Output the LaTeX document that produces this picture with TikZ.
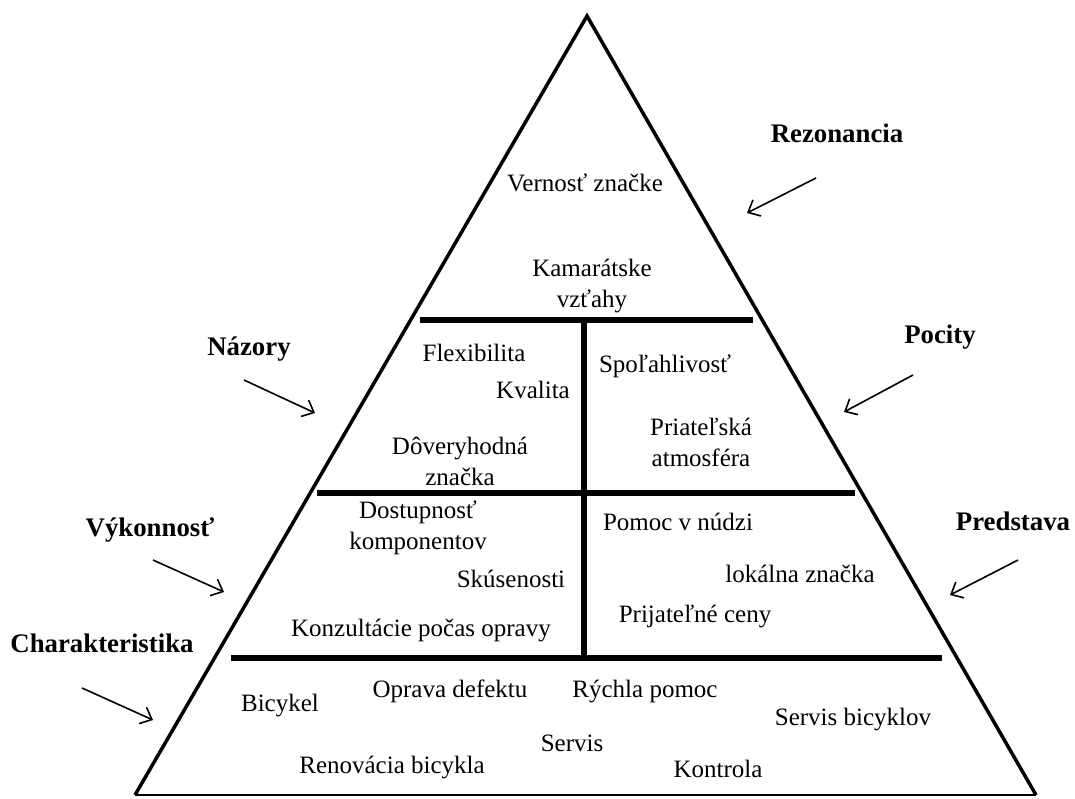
\documentclass[tikz,border=0pt]{standalone}
\usepackage{fontspec}
\setmainfont{Liberation Serif}
\usetikzlibrary{arrows.meta}
\begin{document}
\begin{tikzpicture}[x=1pt,y=-1pt,
  txt/.style={inner sep=0pt, font=\fontsize{25}{31}\selectfont, align=center},
  lbl/.style={inner sep=0pt, font=\fontsize{26.8}{31}\selectfont\bfseries},
  side/.style={line width=3.5pt, line join=miter, line cap=butt},
  base/.style={line width=2.5pt},
  bar/.style={line width=6pt},
  arr/.style={line width=1.6pt, -{Straight Barb[length=10pt,width=18pt,line width=1.6pt]}}]
\useasboundingbox (0,0) rectangle (1075,798);
% pyramid
\coordinate (apex) at (587,16);
\coordinate (bl) at (135,795);
\coordinate (br) at (1036,795);
\draw[side] (bl) -- (apex) -- (br);
\draw[base] (bl) -- (br);
% bars
\draw[bar] (420,319.5) -- (753,319.5);
\draw[bar] (317,492.5) -- (855,492.5);
\draw[bar] (231,657.5) -- (942,657.5);
\draw[bar] (583.5,317) -- (583.5,660);
% top level
\node[txt] (t1) at (585,183) {Vernosť značke};
\node[txt] (t2) at (592,286) {Kamarátske\\vzťahy};
% second level
\node[txt] (n1) at (474,353) {Flexibilita};
\node[txt] (n2) at (533,390) {Kvalita};
\node[txt] (n3) at (460,461) {Dôveryhodná\\značka};
\node[txt] (p1) at (665,366) {Spoľahlivosť};
\node[txt] (p2) at (701,442) {Priateľská\\atmosféra};
% third level
\node[txt] (v1) at (418,528) {Dostupnosť\\komponentov};
\node[txt] (v2) at (511,579) {Skúsenosti};
\node[txt] (v3) at (421,630) {Konzultácie počas opravy};
\node[txt] (r1) at (678,522) {Pomoc v núdzi};
\node[txt] (r2) at (800,574) {lokálna značka};
\node[txt] (r3) at (695,616) {Prijateľné ceny};
% bottom level
\node[txt] (b1) at (280,706) {Bicykel};
\node[txt] (b2) at (450,691) {Oprava defektu};
\node[txt] (b3) at (645,691) {Rýchla pomoc};
\node[txt] (b4) at (853,720) {Servis bicyklov};
\node[txt] (b5) at (572,743) {Servis};
\node[txt] (b6) at (392,767) {Renovácia bicykla};
\node[txt] (b7) at (718,769) {Kontrola};
% labels
\node[lbl] (lRez) at (837,133) {Rezonancia};
\node[lbl] (lPoc) at (940,337) {Pocity};
\node[lbl] (lPre) at (1013,521) {Predstava};
\node[lbl] (lNaz) at (249,349) {Názory};
\node[lbl] (lVyk) at (150,530) {Výkonnosť};
\node[lbl] (lCha) at (102,643) {Charakteristika};
% arrows
\coordinate (aRez0) at (816,178); \coordinate (aRez1) at (747,213);
\coordinate (aPoc0) at (913,375); \coordinate (aPoc1) at (844,412);
\coordinate (aPre0) at (1018,560); \coordinate (aPre1) at (950,595);
\coordinate (aNaz0) at (244,380); \coordinate (aNaz1) at (315,413);
\coordinate (aVyk0) at (153,560); \coordinate (aVyk1) at (224,592);
\coordinate (aCha0) at (82,688); \coordinate (aCha1) at (153,720);
\draw[arr] (aRez0) -- (aRez1);
\draw[arr] (aPoc0) -- (aPoc1);
\draw[arr] (aPre0) -- (aPre1);
\draw[arr] (aNaz0) -- (aNaz1);
\draw[arr] (aVyk0) -- (aVyk1);
\draw[arr] (aCha0) -- (aCha1);
\end{tikzpicture}
\end{document}
